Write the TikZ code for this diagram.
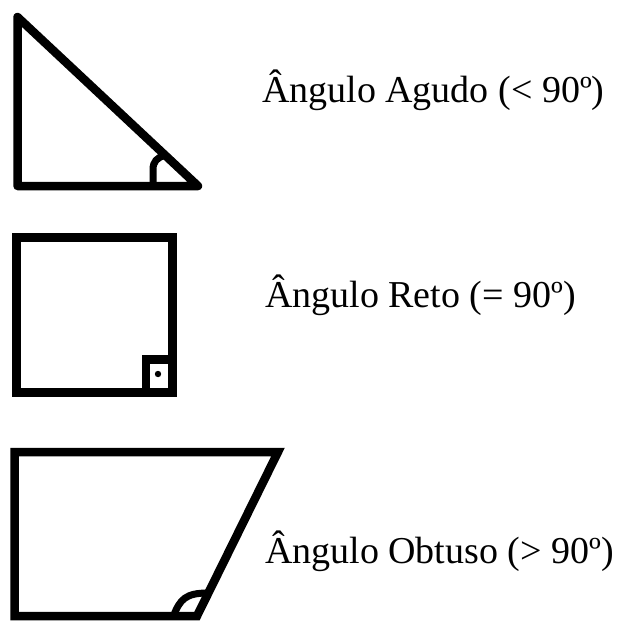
\documentclass[tikz,border=0pt]{standalone}
\usepackage{fontspec}
\setmainfont{Liberation Serif}
\begin{document}
\begin{tikzpicture}[x=1pt,y=-1pt,
  figline/.style={line width=8.5pt,black},
  arcline/.style={line width=7pt,black},
  txtlabel/.style={anchor=base west,inner sep=0pt,outer sep=0pt,font=\fontsize{38}{40}\selectfont}]
\useasboundingbox[fill=white] (0,0) rectangle (621,625);
% acute triangle
\draw[figline,line join=round] (17.5,17) -- (17.5,186) -- (198,186) -- cycle;
\draw[arcline] (153,186) -- (153,170) .. controls (153,161) and (157,158) .. (165,155);
% right angle square
\draw[figline,line join=miter] (16.5,237.5) rectangle (172.5,392.5);
\draw[figline,line join=miter] (146,392.5) -- (146,359.5) -- (172.5,359.5);
\fill (158,374) circle (3.2);
% obtuse parallelogram
\draw[figline,line join=miter] (14.5,616) -- (14.5,452) -- (278,452) -- (197,616) -- cycle;
\draw[arcline] (173.5,616) .. controls (180,599) and (186,593) .. (208,593);
% labels
\node[txtlabel] (agudo) at (262,102) {Ângulo Agudo (< 90º)};
\node[txtlabel] (reto) at (265,307) {Ângulo Reto (= 90º)};
\node[txtlabel] (obtuso) at (265,563) {Ângulo Obtuso (> 90º)};
\end{tikzpicture}
\end{document}
